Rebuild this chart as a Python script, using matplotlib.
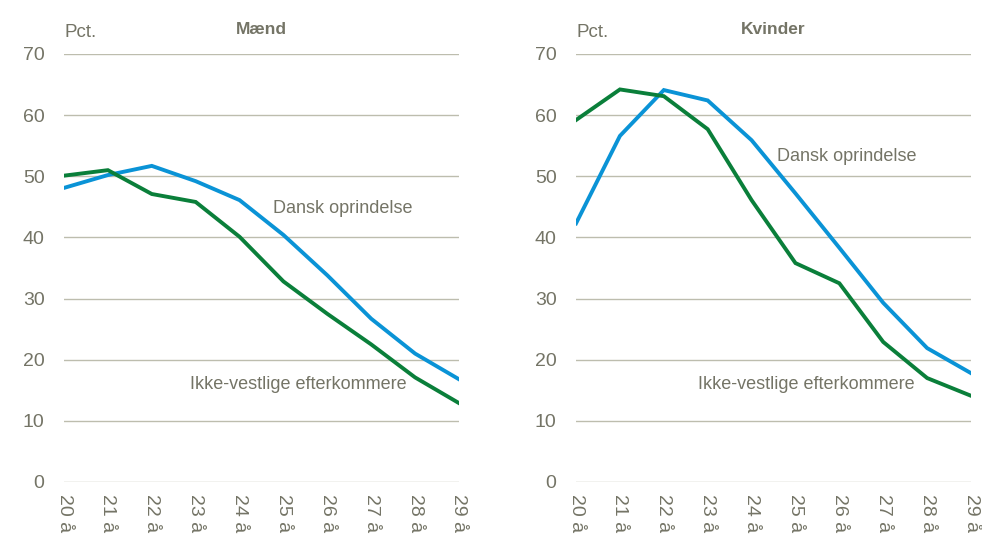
import matplotlib.pyplot as plt
from matplotlib import font_manager

ages = ["20 år", "21 år", "22 år", "23 år", "24 år", "25 år", "26 år", "27 år", "28 år", "29 år"]
x = list(range(20, 30))

maend_dansk = [48.1, 50.2, 51.7, 49.2, 46.1, 40.4, 33.8, 26.7, 21.0, 16.8]
maend_ikke_vestlige = [50.1, 51.0, 47.1, 45.8, 40.1, 32.8, 27.5, 22.5, 17.1, 12.9]
kvinder_dansk = [42.3, 56.6, 64.1, 62.4, 55.9, 47.2, 38.3, 29.3, 21.9, 17.8]
kvinder_ikke_vestlige = [59.2, 64.2, 63.1, 57.7, 46.1, 35.8, 32.5, 22.9, 17.0, 14.1]

BLUE = "#0A93D6"
GREEN = "#0A7F3A"
TXT = "#747466"
GRID = "#BDBDAE"

names = {f.name for f in font_manager.fontManager.ttflist}
family = "Liberation Sans Narrow" if "Liberation Sans Narrow" in names else "Liberation Sans"
plt.rcParams["font.family"] = [family, "DejaVu Sans"]

fig = plt.figure(figsize=(9.82, 5.34), dpi=100)
ax1 = fig.add_axes([0.0652, 0.0974, 0.4022, 0.8015])
ax2 = fig.add_axes([0.5866, 0.0974, 0.4022, 0.8015])

panels = [
    (ax1, "Mænd", maend_dansk, maend_ikke_vestlige, (24.76, 44.8), (22.87, 15.9)),
    (ax2, "Kvinder", kvinder_dansk, kvinder_ikke_vestlige, (24.58, 53.2), (22.78, 15.9)),
]

for ax, title, dansk, ikke, pos_d, pos_i in panels:
    ax.plot(x, dansk, color=BLUE, lw=2.8, solid_joinstyle="miter")
    ax.plot(x, ikke, color=GREEN, lw=2.8, solid_joinstyle="miter")
    ax.set_xlim(20, 29)
    ax.set_ylim(0, 70)
    ax.set_yticks(range(0, 71, 10))
    ax.set_xticks(x)
    ax.set_xticklabels(ages, rotation=270, va="top", ha="center")
    ax.grid(axis="y", color=GRID, lw=1)
    ax.set_axisbelow(True)
    for s in ax.spines.values():
        s.set_visible(False)
    ax.tick_params(length=0, colors=TXT, labelsize=14)
    ax.tick_params(axis="y", pad=14)
    ax.tick_params(axis="x", pad=9)
    ax.text(pos_d[0], pos_d[1], "Dansk oprindelse", color=TXT, fontsize=13, va="center")
    ax.text(pos_i[0], pos_i[1], "Ikke-vestlige efterkommere", color=TXT, fontsize=13, va="center")
    ax.text(0.5, 1.04, title, transform=ax.transAxes, ha="center", va="bottom",
            color=TXT, fontsize=12.5, fontweight="bold")
    ax.text(0.0, 1.03, "Pct.", transform=ax.transAxes, ha="left", va="bottom",
            color=TXT, fontsize=13.5)

fig.savefig("out.png", dpi=100)
